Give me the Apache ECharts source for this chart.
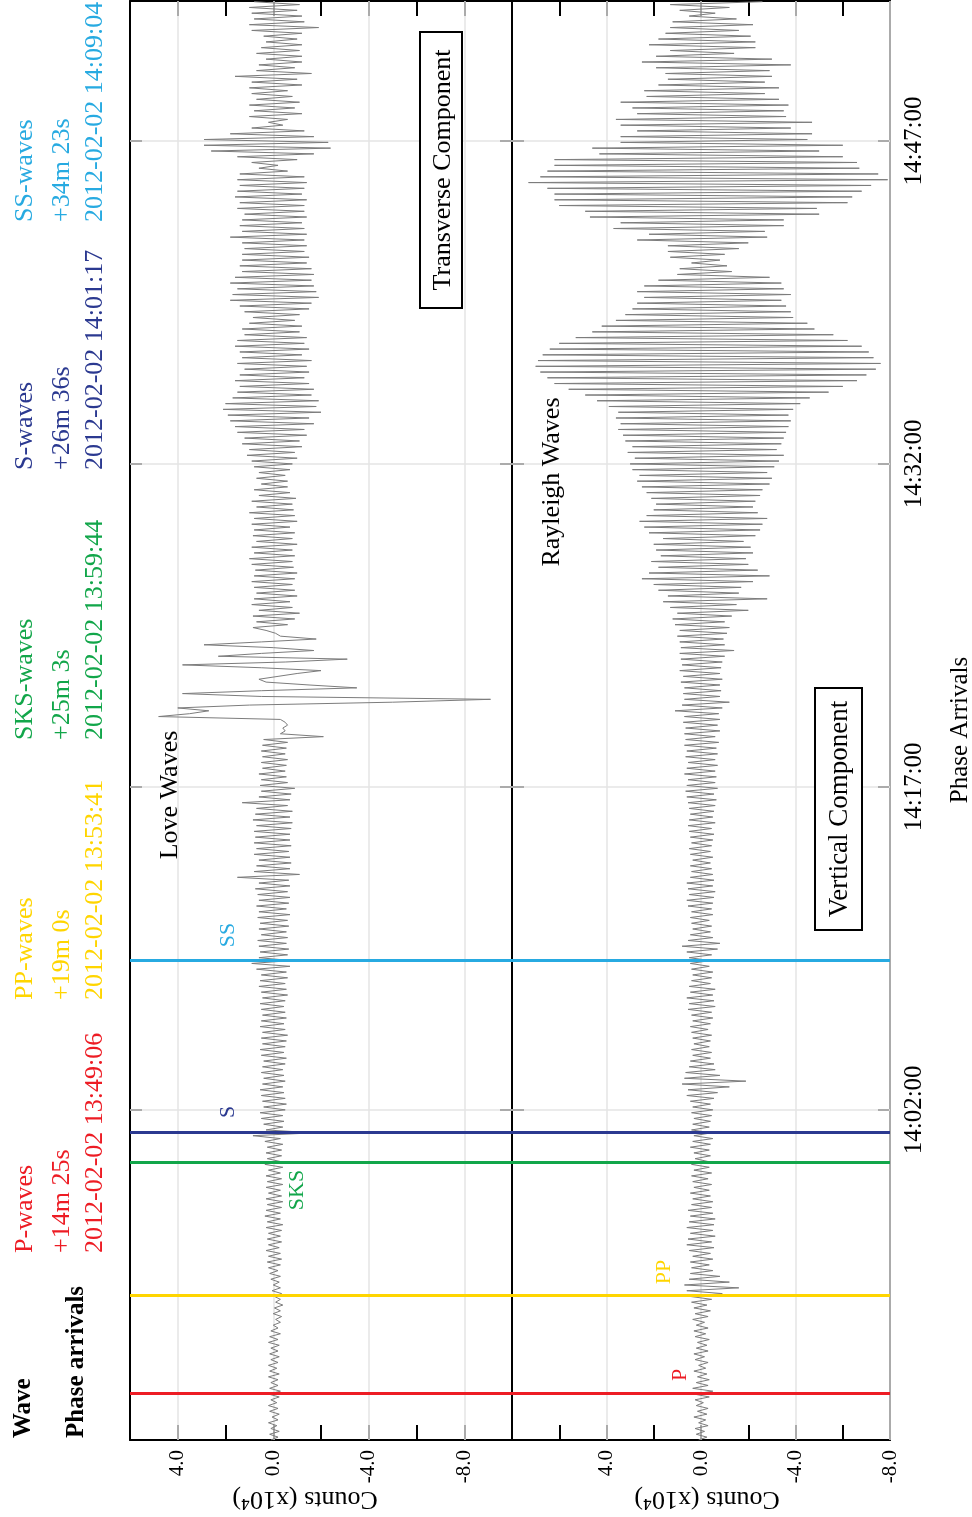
<!DOCTYPE html>
<html><head><meta charset="utf-8">
<script src="https://cdn.jsdelivr.net/npm/echarts@6/dist/echarts.min.js"></script>
<style>html,body{margin:0;padding:0;background:#fff}#c{width:972px;height:1517px}</style>
</head><body><div id="c"></div>
<script>
// ---------------- data ----------------
const traceStart = '13:46:40';       // time of first sample
const sampleStep = 8;                // seconds between samples
const timeRange = ['13:46:40', '14:53:30'];
const timeTicks = ['14:02:00', '14:17:00', '14:32:00', '14:47:00'];
const countLabelValues = [4, 0, -4, -8];
const transverseRange = [-10, 6];
const verticalRange = [-8, 8];

// transverse component, counts x10^4
const transverse = [
0.1,-0.2,0.15,-0.25,0.1,-0.15,0.2,-0.2,0.05,-0.25,
0.15,-0.2,0.2,-0.15,0.1,-0.25,0.2,-0.3,0.15,-0.2,
0.1,-0.2,0.2,-0.25,0.15,-0.15,0.2,-0.2,0.1,-0.25,
0.15,-0.2,0.1,-0.25,0.2,-0.2,0.15,-0.3,0.1,-0.2,
0.0,-0.3,-0.1,-0.35,0.0,-0.3,-0.05,-0.4,-0.1,-0.3,
-0.05,-0.35,0.05,-0.3,0.0,-0.25,0.1,-0.3,0.15,-0.2,
0.2,-0.3,0.25,-0.35,0.2,-0.3,0.3,-0.25,0.2,-0.35,
0.25,-0.3,0.2,-0.35,0.3,-0.4,0.25,-0.3,0.35,-0.3,
0.3,-0.35,0.25,-0.4,0.3,-0.35,0.2,-0.3,0.3,-0.4,
0.25,-0.35,0.3,-0.3,0.2,-0.4,0.35,-0.3,0.25,-0.35,
0.3,-0.35,0.25,-0.4,0.35,-0.3,0.85,-1.7,0.3,-0.4,
0.4,-0.45,0.5,-0.4,0.55,-0.5,0.4,-0.55,0.45,-0.5,
0.5,-0.45,0.55,-0.4,0.45,-0.5,0.4,-0.45,0.5,-0.4,
0.45,-0.5,0.4,-0.55,0.5,-0.45,0.55,-0.5,0.45,-0.55,
0.5,-0.6,0.45,-0.5,0.55,-0.45,0.5,-0.55,0.45,-0.5,
0.5,-0.45,0.55,-0.5,0.45,-0.6,0.5,-0.55,0.6,-0.5,
0.55,-0.6,0.5,-0.55,0.7,-0.7,0.9,-0.75,0.6,-0.6,
0.55,-0.65,0.6,-0.55,0.65,-0.6,0.5,-0.55,0.6,-0.65,
0.55,-0.6,0.65,-0.7,0.6,-0.55,0.7,-0.65,0.6,-0.7,
0.65,-0.6,0.75,-0.7,0.6,-0.65,1.5,-1.1,0.8,-0.7,
0.7,-0.75,0.6,-0.7,0.8,-0.65,0.7,-0.75,0.8,-0.7,
0.75,-0.7,0.8,-0.75,0.7,-0.8,0.85,-0.7,0.75,-0.8,
0.7,-0.6,1.3,-0.7,0.6,-0.75,0.5,-0.9,0.55,-0.6,
0.5,-0.55,0.6,-0.5,0.45,-0.55,0.5,-0.6,0.45,-0.5,
0.5,-0.55,0.45,-0.6,0.4,-2.1,-0.3,-0.5,-0.4,-0.6,
-0.5,-0.3,4.8,3.5,2.7,4.0,1.0,-5.0,-9.1,0.5,
3.8,0.5,-3.5,-1.5,0.3,0.6,-0.2,-1.0,-2.0,0.5,
3.8,-0.5,-3.1,2.3,0.5,-1.7,0.0,2.9,0.5,-1.8,
-0.3,-0.1,0.3,0.85,-0.6,0.7,-0.9,0.85,-1.1,0.6,
-0.8,0.9,-0.7,0.8,-1.0,0.7,-0.9,0.8,-0.8,0.9,
-0.9,0.8,-1.0,0.75,-0.85,0.9,-0.8,1.0,-0.9,0.8,
-0.8,0.9,-1.0,0.7,-0.8,0.85,-0.9,0.8,-0.7,0.9,
-1.0,0.8,-0.9,1.0,-0.85,0.7,-0.8,0.9,-0.95,0.6,
-0.7,0.8,-0.6,0.5,-0.6,0.7,-0.5,0.6,-0.7,0.8,
-0.8,0.9,-1.0,1.1,-0.9,1.0,-1.2,1.3,-1.1,1.2,
-1.4,1.5,-1.3,1.6,-1.7,1.8,-1.5,1.9,-2.0,2.1,
-1.8,2.0,-1.9,1.7,-1.6,1.5,-1.7,1.4,-1.5,1.6,
-1.3,1.4,-1.5,1.2,-1.4,1.5,-1.6,1.3,-1.2,1.4,
-1.5,1.6,-1.3,1.5,-1.4,1.2,-1.1,1.3,-1.2,1.0,
-0.9,0.85,-1.1,1.2,-1.5,1.4,-1.6,1.8,-1.9,1.7,
-1.8,1.5,-1.7,1.8,-1.6,1.6,-1.7,1.3,-1.6,1.4,
-1.4,1.3,-1.5,1.3,-1.3,1.2,-1.4,1.3,-1.3,1.8,
-1.4,1.3,-1.3,1.4,-1.2,1.3,-1.4,1.2,-1.3,1.5,
-1.3,1.4,-1.4,1.6,-1.2,1.5,-1.3,1.4,-1.4,1.5,
-1.3,1.4,-0.6,0.6,-0.2,0.9,-1.0,1.5,-1.7,2.6,
-2.4,2.9,-2.3,2.9,-1.7,1.8,-1.3,0.9,-0.4,0.2,
-0.6,1.0,-1.2,0.8,-0.9,1.0,-1.1,0.7,-0.8,0.9,
-0.6,1.0,-1.2,0.9,-1.0,1.6,-1.6,0.7,-0.9,0.6,
-1.2,0.3,-1.2,0.7,-1.1,0.5,-1.2,0.3,-1.0,0.4,
-1.2,0.9,-1.9,1.0,-1.3,0.8,-1.2,0.9,-1.0,1.0,-1.1,0.8
];

// vertical component, counts x10^4
const vertical = [
0.1,-0.25,0.2,-0.15,0.25,-0.3,0.1,-0.2,0.3,-0.25,
0.15,-0.3,0.2,-0.1,0.25,-0.35,0.3,-0.5,0.35,-0.3,
0.2,-0.35,0.15,-0.25,0.3,-0.2,0.1,-0.3,0.25,-0.15,
0.3,-0.3,0.2,-0.25,0.15,-0.35,0.25,-0.2,0.3,-0.3,
0.2,-0.15,0.35,-0.3,0.25,-0.4,0.3,-0.25,0.4,-0.45,
0.45,-0.9,0.6,-1.6,0.7,-1.2,0.5,-0.8,0.45,-0.5,
0.4,-0.35,0.45,-0.5,0.35,-0.4,0.5,-0.55,0.6,-0.45,
0.55,-0.6,0.45,-0.5,0.6,-0.55,0.5,-0.6,0.45,-0.5,
0.55,-0.45,0.4,-0.5,0.35,-0.4,0.45,-0.35,0.3,-0.45,
0.35,-0.3,0.4,-0.45,0.3,-0.35,0.4,-0.3,0.25,-0.4,
0.3,-0.35,0.45,-0.4,0.35,-0.5,0.3,-0.45,0.4,-0.35,
0.35,-0.4,0.3,-0.45,0.4,-0.5,0.35,-0.4,0.45,-0.55,
0.6,-0.7,0.55,-1.2,0.8,-1.9,0.7,-0.8,0.65,-0.6,
0.5,-0.55,0.45,-0.4,0.35,-0.45,0.4,-0.35,0.3,-0.4,
0.35,-0.45,0.4,-0.3,0.45,-0.4,0.35,-0.5,0.4,-0.45,
0.55,-0.6,0.5,-0.55,0.6,-0.5,0.45,-0.6,0.5,-0.4,
0.4,-0.45,0.35,-0.5,0.4,-0.35,0.45,-0.4,0.5,-0.45,
0.6,-0.7,0.8,-0.8,0.55,-0.5,0.45,-0.4,0.35,-0.45,
0.4,-0.35,0.45,-0.5,0.4,-0.45,0.55,-0.5,0.6,-0.55,
0.5,-0.6,0.55,-0.5,0.6,-0.55,0.45,-0.5,0.4,-0.45,
0.45,-0.4,0.35,-0.5,0.45,-0.4,0.5,-0.45,0.4,-0.5,
0.45,-0.55,0.5,-0.45,0.55,-0.6,0.5,-0.5,0.45,-0.55,
0.5,-0.6,0.55,-0.65,0.6,-0.55,0.65,-0.7,0.6,-0.6,
0.55,-0.65,0.7,-0.6,0.6,-0.7,0.55,-0.6,0.65,-0.7,
0.6,-0.65,0.7,-0.75,0.65,-0.6,0.7,-0.8,0.65,-0.7,
0.75,-0.8,0.7,-0.75,1.1,-0.9,0.8,-1.2,0.7,-0.8,
0.75,-0.85,0.7,-0.8,0.85,-0.9,0.75,-0.8,0.9,-0.85,
0.8,-0.9,0.85,-1.0,0.9,-1.4,0.85,-1.0,0.9,-0.95,
1.0,-1.1,0.9,-1.2,1.1,-1.0,1.2,-1.3,1.0,-2.0,
1.3,-1.5,1.6,-2.8,1.4,-1.6,1.8,-1.7,2.0,-2.2,
2.5,-2.9,2.2,-2.4,1.8,-2.0,2.1,-1.9,1.7,-2.2,
1.9,-2.1,2.0,-1.8,1.6,-2.3,2.2,-2.5,2.4,-2.6,
2.6,-2.8,2.3,-2.4,2.0,-2.2,1.9,-2.3,2.1,-2.5,
2.3,-2.6,2.5,-2.9,2.7,-3.0,2.6,-2.8,2.9,-3.1,
3.0,-3.3,2.8,-3.5,3.1,-3.2,2.9,-3.4,3.2,-3.5,
3.3,-3.6,3.5,-3.7,3.4,-3.8,3.6,-3.7,3.5,-3.9,
3.9,-4.2,4.4,-4.6,4.9,-5.4,5.6,-6.0,6.2,-6.6,
6.5,-7.0,6.8,-7.4,7.0,-7.6,6.9,-7.3,6.7,-7.1,
6.4,-6.8,6.0,-6.2,5.3,-5.6,4.6,-4.8,4.2,-4.5,
3.6,-3.9,3.2,-3.8,2.9,-3.6,2.7,-3.4,2.4,-3.8,
2.7,-3.5,2.4,-3.4,1.8,-2.9,1.0,-1.3,0.9,-1.1,
0.4,-0.8,1.3,-1.0,1.4,-1.6,1.4,-2.0,2.7,-2.8,
2.2,-2.7,3.7,-3.5,3.4,-3.5,4.7,-5.0,4.9,-4.9,
6.0,-6.2,6.2,-6.4,6.2,-6.8,6.5,-7.2,7.3,-7.9,
6.8,-7.5,6.5,-6.7,6.2,-6.6,6.2,-6.0,4.3,-5.0,
4.6,-6.0,3.4,-4.5,3.4,-4.7,2.7,-3.8,3.4,-4.7,
3.6,-3.6,2.7,-3.5,2.9,-3.7,3.4,-3.3,2.3,-2.7,
2.4,-3.3,1.8,-2.7,1.4,-3.0,1.5,-2.9,1.9,-3.8,
2.5,-3.0,1.9,-1.4,1.3,-2.3,2.2,-2.3,1.8,-2.1,
1.5,-1.6,1.3,-2.2,1.2,-1.5,0.5,-0.6,0.9,-1.2,1.3,-2.6
];

const phaseNames   = ['P', 'PP', 'SKS', 'S', 'SS'];
const phaseWaves   = ['P-waves', 'PP-waves', 'SKS-waves', 'S-waves', 'SS-waves'];
const phaseOffsets = ['+14m 25s', '+19m 0s', '+25m 3s', '+26m 36s', '+34m 23s'];
const phaseStamps  = ['2012-02-02 13:49:06', '2012-02-02 13:53:41', '2012-02-02 13:59:44', '2012-02-02 14:01:17', '2012-02-02 14:09:04'];
const phaseLineTimes = ['13:48:51', '13:53:24', '13:59:33', '14:00:57', '14:08:58'];
const phaseColors  = ['#ed1c24', '#ffd500', '#12a64a', '#2b3990', '#27aae1'];

// ---------------- helpers ----------------
const FONT = '"Liberation Serif","Times New Roman",serif';
function toSec(s) { const p = s.split(':').map(Number); return p[0] * 3600 + p[1] * 60 + p[2]; }
function pad(n) { return (n < 10 ? '0' : '') + n; }
function fmtTime(v) { v = Math.round(v); return pad(Math.floor(v / 3600)) + ':' + pad(Math.floor(v % 3600 / 60)) + ':' + pad(v % 60); }

const t0 = toSec(traceStart);
const tMin = toSec(timeRange[0]), tMax = toSec(timeRange[1]);
const tickSecs = timeTicks.map(toSec);

const transverseData = transverse.map((v, i) => [v, t0 + i * sampleStep]);
const verticalData = vertical.map((v, i) => [v, t0 + i * sampleStep]);

function countAxis(gridIndex, range, pos, labels) {
  return {
    type: 'value', gridIndex, min: range[0], max: range[1], interval: 2, inverse: true, position: pos,
    axisLine: { show: true, onZero: false, lineStyle: { color: '#000', width: 2 } },
    axisTick: { show: true, inside: true, length: 15, lineStyle: { color: '#000', width: 2 } },
    axisLabel: labels ? {
      show: true, rotate: 90, margin: 10, color: '#000', fontFamily: FONT, fontSize: 21,
      showMinLabel: true, showMaxLabel: true,
      formatter: v => countLabelValues.indexOf(v) >= 0 ? (v === 0 ? '0.0' : v.toFixed(1)) : ''
    } : { show: false },
    splitLine: { show: false }
  };
}
function timeAxis(gridIndex, pos, labels) {
  return {
    type: 'value', gridIndex, min: tMin, max: tMax, position: pos,
    axisLine: { show: true, onZero: false, lineStyle: { color: '#000', width: 2 } },
    axisTick: { show: true, inside: true, length: 12, customValues: tickSecs, lineStyle: { color: '#000', width: 2 } },
    axisLabel: labels ? {
      show: true, customValues: tickSecs, rotate: 90, margin: 12, color: '#000',
      fontFamily: FONT, fontSize: 25, formatter: fmtTime
    } : { show: false },
    splitLine: { show: false }
  };
}
function gridSeries(xi, yi) {
  return {
    type: 'line', xAxisIndex: xi, yAxisIndex: yi, data: [], z: 1, silent: true,
    markLine: {
      silent: true, symbol: ['none', 'none'], animation: false, z: 1,
      label: { show: false },
      lineStyle: { color: '#e4e4e4', width: 1.5, type: 'solid' },
      data: countLabelValues.map(v => ({ xAxis: v })).concat(tickSecs.map(s => ({ yAxis: s })))
    }
  };
}
function phaseSeries(xi, yi) {
  return {
    type: 'line', xAxisIndex: xi, yAxisIndex: yi, data: [], z: 6, silent: true,
    markLine: {
      silent: true, symbol: ['none', 'none'], animation: false, z: 6,
      label: { show: false },
      data: phaseLineTimes.map((t, k) => ({ yAxis: toSec(t), lineStyle: { color: phaseColors[k], width: 3, type: 'solid' } }))
    }
  };
}
function traceSeries(xi, yi, data) {
  return {
    type: 'line', xAxisIndex: xi, yAxisIndex: yi, data, z: 3, showSymbol: false, symbol: 'none',
    silent: true, clip: true, animation: false,
    lineStyle: { color: '#7c7c7c', width: 1 }
  };
}

// ---------------- graphic (texts) ----------------
function txt(text, x, y, size, color, opt) {
  opt = opt || {};
  const align = opt.align || 'center';
  return {
    type: 'text', x, y, rotation: opt.rot === undefined ? Math.PI / 2 : opt.rot, z: 30, silent: true,
    style: {
      text, fill: color, font: (opt.bold ? 'bold ' : '') + size + 'px ' + FONT,
      textAlign: align, align: align, textVerticalAlign: 'middle', verticalAlign: 'middle'
    }
  };
}
const legendStart = [1253, 1000, 740, 470, 222];
const phaseLabelPos = [[680, 1375], [664, 1272], [297, 1190], [228, 1112], [228, 935]];
const els = [];
els.push(txt('Wave', 24, 1438, 25, '#000', { align: 'left', bold: true }));
els.push(txt('Phase arrivals', 77, 1438, 25, '#000', { align: 'left', bold: true }));
phaseNames.forEach((n, k) => {
  els.push(txt(phaseWaves[k], 25, legendStart[k], 26, phaseColors[k], { align: 'left' }));
  els.push(txt(phaseOffsets[k], 62, legendStart[k], 26, phaseColors[k], { align: 'left' }));
  els.push(txt(phaseStamps[k], 95, legendStart[k], 26, phaseColors[k], { align: 'left' }));
  els.push(txt(n, phaseLabelPos[k][0], phaseLabelPos[k][1], 22, phaseColors[k]));
});
els.push({ type: 'rect', z: 25, silent: true, shape: { x: 420, y: 32, width: 42, height: 276 }, style: { fill: '#fff', stroke: '#000', lineWidth: 2 } });
els.push(txt('Transverse Component', 443, 170, 26, '#000'));
els.push({ type: 'rect', z: 25, silent: true, shape: { x: 815, y: 688, width: 47, height: 242 }, style: { fill: '#fff', stroke: '#000', lineWidth: 2 } });
els.push(txt('Vertical Component', 840, 809, 27, '#000'));
els.push(txt('Love Waves', 170, 795, 26, '#000'));
els.push(txt('Rayleigh Waves', 552, 482, 26, '#000'));
els.push(txt('Phase Arrivals', 960, 730, 25, '#000'));
els.push(txt('Counts (x10\u2074)', 305, 1499, 26, '#000', { rot: Math.PI }));
els.push(txt('Counts (x10\u2074)', 707, 1499, 26, '#000', { rot: Math.PI }));

// ---------------- chart ----------------
const chart = echarts.init(document.getElementById('c'), null, { renderer: 'canvas' });
chart.setOption({
  animation: false,
  backgroundColor: '#fff',
  grid: [
    { left: 130, top: 1, width: 382, height: 1439, outerBoundsMode: 'none' },
    { left: 512, top: 1, width: 378, height: 1439, outerBoundsMode: 'none' }
  ],
  xAxis: [
    countAxis(0, transverseRange, 'bottom', true),
    countAxis(0, transverseRange, 'top', false),
    countAxis(1, verticalRange, 'bottom', true),
    countAxis(1, verticalRange, 'top', false)
  ],
  yAxis: [
    timeAxis(0, 'left', false),
    timeAxis(0, 'right', false),
    timeAxis(1, 'left', false),
    timeAxis(1, 'right', true)
  ],
  series: [
    gridSeries(0, 0), gridSeries(2, 2),
    traceSeries(0, 0, transverseData), traceSeries(2, 2, verticalData),
    phaseSeries(0, 0), phaseSeries(2, 2)
  ],
  graphic: { elements: els }
});
</script></body></html>
